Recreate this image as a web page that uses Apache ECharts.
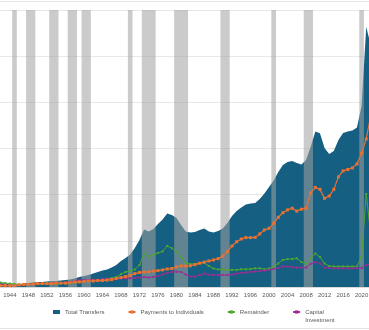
<!DOCTYPE html>
<html>
<head>
<meta charset="utf-8">
<script src="https://cdn.jsdelivr.net/npm/echarts@6/dist/echarts.min.js"></script>
<style>
  html, body { margin: 0; padding: 0; background: #ffffff; }
  #chart { width: 369px; height: 330px; }
</style>
</head>
<body>
<div id="chart"></div>
<script>
// Fiscal years shown on the horizontal axis
const years = [
  1940, 1941, 1942, 1943, 1944, 1945, 1946, 1947, 1948, 1949,
  1950, 1951, 1952, 1953, 1954, 1955, 1956, 1957, 1958, 1959,
  1960, 1961, 1962, 1963, 1964, 1965, 1966, 1967, 1968, 1969,
  1970, 1971, 1972, 1973, 1974, 1975, 1976, 1977, 1978, 1979,
  1980, 1981, 1982, 1983, 1984, 1985, 1986, 1987, 1988, 1989,
  1990, 1991, 1992, 1993, 1994, 1995, 1996, 1997, 1998, 1999,
  2000, 2001, 2002, 2003, 2004, 2005, 2006, 2007, 2008, 2009,
  2010, 2011, 2012, 2013, 2014, 2015, 2016, 2017, 2018, 2019,
  2020, 2021, 2022
];

// Total federal transfers (area)
const totalTransfers = [
  11, 13, 17, 15, 13, 11, 11, 15, 17, 19,
  22, 22, 24, 26, 26, 28, 30, 32, 37, 43,
  48, 52, 58, 65, 71, 76, 84, 95, 113, 126,
  141, 169, 204, 249, 240, 251, 273, 292, 318, 312,
  299, 269, 240, 236, 238, 247, 253, 240, 236, 243,
  253, 277, 308, 329, 344, 357, 362, 364, 381, 405,
  433, 461, 498, 528, 541, 546, 537, 531, 550, 606,
  674, 666, 602, 576, 589, 637, 667, 674, 678, 691,
  784, 1126, 1048
];

// Payments to individuals
const paymentsToIndividuals = [
  6, 6, 6, 6, 6, 6, 9, 11, 11, 13,
  15, 15, 15, 15, 17, 17, 17, 19, 22, 22,
  24, 26, 26, 28, 28, 30, 32, 37, 41, 45,
  50, 58, 63, 65, 65, 69, 71, 74, 78, 80,
  87, 91, 91, 92, 97, 103, 108, 113, 117, 123,
  134, 153, 178, 196, 208, 214, 214, 215, 230, 247,
  254, 276, 302, 322, 334, 341, 329, 337, 341, 407,
  431, 423, 384, 394, 423, 477, 503, 509, 516, 533,
  580, 641, 745
];

// Remainder of grants
const remainder = [
  17, 17, 19, 17, 15, 13, 11, 13, 13, 13,
  13, 13, 13, 13, 13, 15, 15, 17, 19, 22,
  24, 26, 28, 30, 32, 35, 39, 43, 56, 65,
  69, 76, 95, 145, 131, 139, 147, 154, 178, 168,
  153, 132, 103, 100, 100, 104, 104, 91, 80, 76,
  76, 74, 74, 74, 77, 77, 78, 81, 81, 77,
  80, 89, 102, 117, 121, 121, 124, 108, 100, 124,
  145, 130, 102, 91, 89, 89, 89, 89, 89, 89,
  130, 403, 225
];

// Capital investment
const capitalInvestment = [
  13, 13, 11, 9, 6, 6, 9, 11, 13, 13,
  15, 15, 15, 15, 17, 17, 19, 22, 26, 30,
  30, 30, 32, 32, 35, 35, 35, 35, 37, 37,
  38, 39, 41, 43, 41, 43, 48, 54, 61, 65,
  66, 65, 54, 45, 45, 52, 58, 54, 52, 52,
  52, 52, 54, 58, 61, 63, 65, 67, 69, 71,
  74, 78, 82, 89, 89, 87, 84, 84, 84, 100,
  108, 102, 84, 82, 81, 81, 81, 81, 81, 81,
  82, 95, 100
];

// Recession spans (first year, last year), shaded as full-height bands
const recessions = [
  [1945, 1945], [1948, 1949], [1953, 1954], [1957, 1958], [1960, 1961],
  [1970, 1970], [1973, 1975], [1980, 1982], [1990, 1991], [2001, 2001],
  [2008, 2009], [2020, 2020]
];

const yMax = 1200;
const pair = (vals) => years.map((y, i) => [y, vals[i]]);
const font = 'Liberation Sans, Arial, sans-serif';

const chart = echarts.init(document.getElementById('chart'), null, { renderer: 'canvas' });

chart.setOption({
  animation: false,
  backgroundColor: '#ffffff',
  grid: {
    left: -8.64, right: -11.1, top: 10, bottom: 43,
    containLabel: false,
    outerBoundsMode: 'none'
  },
  xAxis: {
    type: 'value',
    min: 1940,
    max: 2024,
    interval: 4,
    axisLine: { show: true, lineStyle: { color: '#d9d9d9', width: 1 } },
    axisTick: { show: false },
    splitLine: { show: false },
    axisLabel: {
      showMinLabel: false,
      showMaxLabel: false,
      margin: 5,
      fontSize: 6,
      fontFamily: font,
      color: '#595959',
      formatter: (v) => String(v)
    }
  },
  yAxis: {
    type: 'value',
    min: 0,
    max: yMax,
    interval: 200,
    axisLine: { show: false },
    axisTick: { show: false },
    axisLabel: { show: false },
    splitLine: { show: true, lineStyle: { color: '#e8e8e8', width: 1 } }
  },
  legend: {
    left: 53,
    top: 300,
    padding: 0,
    orient: 'horizontal',
    itemWidth: 7,
    itemHeight: 4,
    itemGap: 23,
    textStyle: { fontSize: 6, fontFamily: font, color: '#595959', lineHeight: 8 },
    // the last entry wraps onto a second line below the marker row
    formatter: (name) => name === 'Capital Investment' ? ' \nCapital\nInvestment' : name,
    data: [
      { name: 'Total Transfers', icon: 'rect' },
      { name: 'Payments to Individuals' },
      { name: 'Remainder' },
      { name: 'Capital Investment' }
    ]
  },
  graphic: [
    { type: 'line', shape: { x1: 0, y1: 1.5, x2: 369, y2: 1.5 }, style: { stroke: '#e3e3e3', lineWidth: 1 }, silent: true },
    { type: 'line', shape: { x1: 0, y1: 328.5, x2: 369, y2: 328.5 }, style: { stroke: '#e3e3e3', lineWidth: 1 }, silent: true }
  ],
  series: [
    {
      name: 'Total Transfers',
      type: 'line',
      z: 2,
      data: pair(totalTransfers),
      symbol: 'none',
      lineStyle: { width: 0, color: '#156082' },
      itemStyle: { color: '#156082' },
      areaStyle: { color: '#156082', opacity: 1 }
    },
    {
      name: 'Recessions',
      type: 'custom',
      z: 3,
      silent: true,
      data: recessions,
      encode: { x: [0, 1] },
      renderItem: (params, api) => {
        const start = api.value(0);
        const end = api.value(1);
        const topLeft = api.coord([start - 0.5, yMax]);
        const bottomRight = api.coord([end + 0.5, 0]);
        return {
          type: 'rect',
          shape: {
            x: topLeft[0],
            y: topLeft[1],
            width: bottomRight[0] - topLeft[0],
            height: bottomRight[1] - topLeft[1]
          },
          style: { fill: 'rgba(160,160,160,0.55)' }
        };
      }
    },
    {
      name: 'Payments to Individuals',
      type: 'line',
      z: 5,
      data: pair(paymentsToIndividuals),
      symbol: 'rect',
      symbolSize: 3,
      lineStyle: { width: 1.2, color: '#E97132' },
      itemStyle: { color: '#E97132' }
    },
    {
      name: 'Remainder',
      type: 'line',
      z: 4,
      data: pair(remainder),
      symbol: 'rect',
      symbolSize: 2,
      lineStyle: { width: 1, color: '#4EA72E' },
      itemStyle: { color: '#4EA72E' }
    },
    {
      name: 'Capital Investment',
      type: 'line',
      z: 4,
      data: pair(capitalInvestment),
      symbol: 'rect',
      symbolSize: 2,
      lineStyle: { width: 1, color: '#A02B93' },
      itemStyle: { color: '#A02B93' }
    }
  ]
});
</script>
</body>
</html>
